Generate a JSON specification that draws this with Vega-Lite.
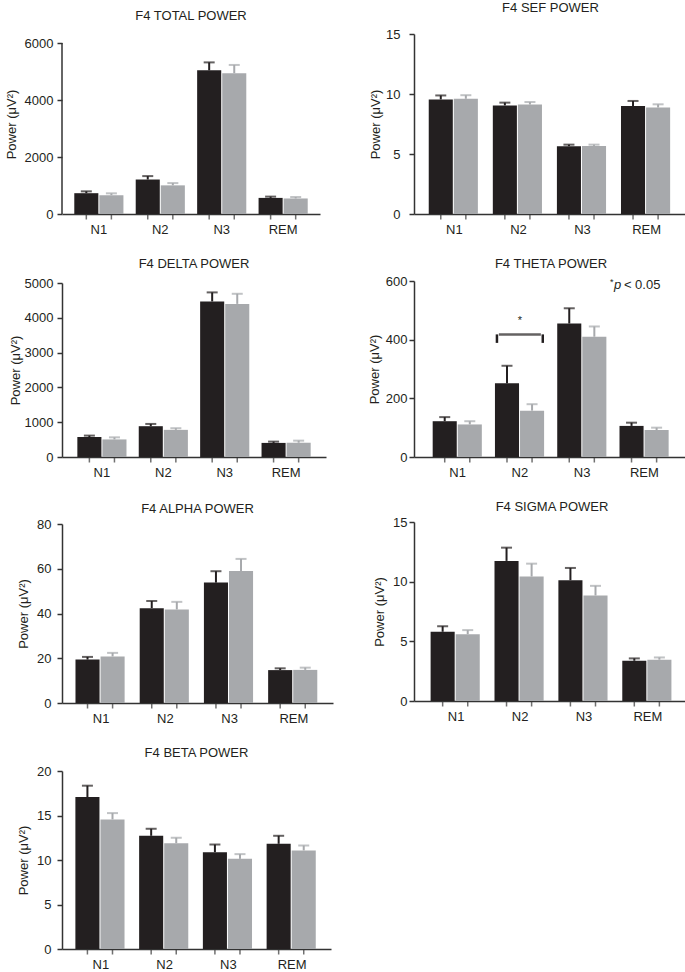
{
  "$schema": "https://vega.github.io/schema/vega-lite/v6.json",
  "padding": {"left": 5, "top": 2, "right": 0, "bottom": 0},
  "background": "white",
  "datasets": {
    "total": [
      {"stage": "N1", "group": "Group 1", "value": 730, "upper": 795},
      {"stage": "N1", "group": "Group 2", "value": 660, "upper": 725},
      {"stage": "N2", "group": "Group 1", "value": 1210, "upper": 1330},
      {"stage": "N2", "group": "Group 2", "value": 1005, "upper": 1085},
      {"stage": "N3", "group": "Group 1", "value": 5040, "upper": 5320},
      {"stage": "N3", "group": "Group 2", "value": 4940, "upper": 5230},
      {"stage": "REM", "group": "Group 1", "value": 565, "upper": 610},
      {"stage": "REM", "group": "Group 2", "value": 545, "upper": 595}
    ],
    "sef": [
      {"stage": "N1", "group": "Group 1", "value": 9.55, "upper": 9.88},
      {"stage": "N1", "group": "Group 2", "value": 9.6, "upper": 9.9},
      {"stage": "N2", "group": "Group 1", "value": 9.05, "upper": 9.28},
      {"stage": "N2", "group": "Group 2", "value": 9.12, "upper": 9.33},
      {"stage": "N3", "group": "Group 1", "value": 5.65, "upper": 5.78},
      {"stage": "N3", "group": "Group 2", "value": 5.67, "upper": 5.78},
      {"stage": "REM", "group": "Group 1", "value": 9.0, "upper": 9.42},
      {"stage": "REM", "group": "Group 2", "value": 8.87, "upper": 9.14}
    ],
    "delta": [
      {"stage": "N1", "group": "Group 1", "value": 575, "upper": 615},
      {"stage": "N1", "group": "Group 2", "value": 505, "upper": 565},
      {"stage": "N2", "group": "Group 1", "value": 885, "upper": 950},
      {"stage": "N2", "group": "Group 2", "value": 780, "upper": 827},
      {"stage": "N3", "group": "Group 1", "value": 4470, "upper": 4730},
      {"stage": "N3", "group": "Group 2", "value": 4400, "upper": 4690},
      {"stage": "REM", "group": "Group 1", "value": 405, "upper": 442},
      {"stage": "REM", "group": "Group 2", "value": 410, "upper": 470}
    ],
    "theta": [
      {"stage": "N1", "group": "Group 1", "value": 122, "upper": 136},
      {"stage": "N1", "group": "Group 2", "value": 111, "upper": 122},
      {"stage": "N2", "group": "Group 1", "value": 251, "upper": 311},
      {"stage": "N2", "group": "Group 2", "value": 158, "upper": 180},
      {"stage": "N3", "group": "Group 1", "value": 455, "upper": 507},
      {"stage": "N3", "group": "Group 2", "value": 410, "upper": 445},
      {"stage": "REM", "group": "Group 1", "value": 106, "upper": 117},
      {"stage": "REM", "group": "Group 2", "value": 92, "upper": 100}
    ],
    "alpha": [
      {"stage": "N1", "group": "Group 1", "value": 19.4, "upper": 20.6},
      {"stage": "N1", "group": "Group 2", "value": 20.8, "upper": 22.4},
      {"stage": "N2", "group": "Group 1", "value": 42.4, "upper": 45.6},
      {"stage": "N2", "group": "Group 2", "value": 41.8, "upper": 45.2},
      {"stage": "N3", "group": "Group 1", "value": 53.8, "upper": 58.9},
      {"stage": "N3", "group": "Group 2", "value": 59.0, "upper": 64.4},
      {"stage": "REM", "group": "Group 1", "value": 14.7, "upper": 15.5},
      {"stage": "REM", "group": "Group 2", "value": 14.8, "upper": 15.8}
    ],
    "sigma": [
      {"stage": "N1", "group": "Group 1", "value": 5.8, "upper": 6.27},
      {"stage": "N1", "group": "Group 2", "value": 5.6, "upper": 5.94},
      {"stage": "N2", "group": "Group 1", "value": 11.74, "upper": 12.85},
      {"stage": "N2", "group": "Group 2", "value": 10.43, "upper": 11.51},
      {"stage": "N3", "group": "Group 1", "value": 10.12, "upper": 11.15},
      {"stage": "N3", "group": "Group 2", "value": 8.84, "upper": 9.65},
      {"stage": "REM", "group": "Group 1", "value": 3.37, "upper": 3.57},
      {"stage": "REM", "group": "Group 2", "value": 3.46, "upper": 3.65}
    ],
    "beta": [
      {"stage": "N1", "group": "Group 1", "value": 17.07, "upper": 18.35},
      {"stage": "N1", "group": "Group 2", "value": 14.56, "upper": 15.27},
      {"stage": "N2", "group": "Group 1", "value": 12.72, "upper": 13.51},
      {"stage": "N2", "group": "Group 2", "value": 11.89, "upper": 12.5},
      {"stage": "N3", "group": "Group 1", "value": 10.88, "upper": 11.74},
      {"stage": "N3", "group": "Group 2", "value": 10.13, "upper": 10.66},
      {"stage": "REM", "group": "Group 1", "value": 11.82, "upper": 12.72},
      {"stage": "REM", "group": "Group 2", "value": 11.07, "upper": 11.63}
    ]
  },
  "columns": 2,
  "align": {"row": "none", "column": "each"},
  "spacing": {"row": 21, "column": 35},
  "concat": [
    {
      "width": 258, "height": 180,
      "title": {"text": "F4 TOTAL POWER", "offset": 11},
      "encoding": {
        "x": {"field": "stage", "type": "nominal", "sort": ["N1", "N2", "N3", "REM"], "title": null, "scale": {"paddingInner": 0.2, "paddingOuter": 0.2}}
      },
      "layer": [
        {"data": {"name": "total"}, "mark": {"type": "rule", "strokeWidth": 2}, "encoding": {"xOffset": {"field": "group", "type": "nominal", "scale": {"paddingInner": 0.04}}, "y": {"field": "value", "type": "quantitative"}, "y2": {"field": "upper"}, "color": {"field": "group", "type": "nominal", "scale": {"domain": ["Group 1", "Group 2"], "range": ["#231f20", "#a7a9ac"]}, "legend": null}}},
        {"data": {"name": "total"}, "mark": {"type": "bar"}, "encoding": {"xOffset": {"field": "group", "type": "nominal"}, "y": {"field": "value", "type": "quantitative", "scale": {"domain": [0, 6316], "nice": false}, "axis": {"values": [0, 2000, 4000, 6000], "tickCount": 10, "format": "d", "domain": false, "title": "Power (μV²)", "labelPadding": 4, "titlePadding": 6}}, "color": {"field": "group", "type": "nominal", "legend": null}}},
        {"data": {"name": "total"}, "mark": {"type": "tick", "orient": "horizontal", "thickness": 2, "size": 11}, "encoding": {"xOffset": {"field": "group", "type": "nominal"}, "y": {"field": "upper", "type": "quantitative"}, "color": {"field": "group", "type": "nominal", "legend": null}}},
        {"data": {"name": "total"}, "mark": {"type": "tick", "orient": "vertical", "thickness": 1.5, "size": 5, "yOffset": 3, "color": "#333333"}, "encoding": {"xOffset": {"field": "group", "type": "nominal"}, "y": {"datum": 0}}},
        {"data": {"values": [{"stage": "N1", "lo": 0, "hi": 6000}]}, "mark": {"type": "rule", "strokeWidth": 1.5, "color": "#333333"}, "encoding": {"x": {"field": "stage", "type": "nominal", "bandPosition": -0.25}, "y": {"field": "lo", "type": "quantitative"}, "y2": {"field": "hi"}}}
      ]
    },
    {
      "data": {"name": "sef"},
      "width": 273, "height": 180,
      "title": {"text": "F4 SEF POWER", "offset": 13},
      "encoding": {
        "x": {"field": "stage", "type": "nominal", "sort": ["N1", "N2", "N3", "REM"], "title": null, "scale": {"paddingInner": 0.2, "paddingOuter": 0.23}},
        "xOffset": {"field": "group", "type": "nominal", "scale": {"paddingInner": 0.04}}
      },
      "layer": [
        {"mark": {"type": "rule", "strokeWidth": 2}, "encoding": {"y": {"field": "value", "type": "quantitative"}, "y2": {"field": "upper"}, "color": {"field": "group", "type": "nominal", "scale": {"domain": ["Group 1", "Group 2"], "range": ["#231f20", "#a7a9ac"]}, "legend": null}}},
        {"mark": {"type": "bar"}, "encoding": {"y": {"field": "value", "type": "quantitative", "scale": {"domain": [0, 15], "nice": false}, "axis": {"values": [0, 5, 10, 15], "tickCount": 10, "format": "d", "title": "Power (μV²)", "labelPadding": 9, "titlePadding": 3}}, "color": {"field": "group", "type": "nominal", "legend": null}}},
        {"mark": {"type": "tick", "orient": "horizontal", "thickness": 2, "size": 11}, "encoding": {"y": {"field": "upper", "type": "quantitative"}, "color": {"field": "group", "type": "nominal", "legend": null}}},
        {"mark": {"type": "tick", "orient": "vertical", "thickness": 1.5, "size": 5, "yOffset": 3, "color": "#333333"}, "encoding": {"y": {"datum": 0}}}
      ]
    },
    {
      "data": {"name": "delta"},
      "width": 264, "height": 174,
      "title": {"text": "F4 DELTA POWER", "offset": 6},
      "encoding": {
        "x": {"field": "stage", "type": "nominal", "sort": ["N1", "N2", "N3", "REM"], "title": null, "scale": {"paddingInner": 0.2, "paddingOuter": 0.25}},
        "xOffset": {"field": "group", "type": "nominal", "scale": {"paddingInner": 0.04}}
      },
      "layer": [
        {"mark": {"type": "rule", "strokeWidth": 2}, "encoding": {"y": {"field": "value", "type": "quantitative"}, "y2": {"field": "upper"}, "color": {"field": "group", "type": "nominal", "scale": {"domain": ["Group 1", "Group 2"], "range": ["#231f20", "#a7a9ac"]}, "legend": null}}},
        {"mark": {"type": "bar"}, "encoding": {"y": {"field": "value", "type": "quantitative", "scale": {"domain": [0, 5000], "nice": false}, "axis": {"values": [0, 1000, 2000, 3000, 4000, 5000], "tickCount": 10, "format": "d", "title": "Power (μV²)", "labelPadding": 4, "titlePadding": 2}}, "color": {"field": "group", "type": "nominal", "legend": null}}},
        {"mark": {"type": "tick", "orient": "horizontal", "thickness": 2, "size": 11}, "encoding": {"y": {"field": "upper", "type": "quantitative"}, "color": {"field": "group", "type": "nominal", "legend": null}}},
        {"mark": {"type": "tick", "orient": "vertical", "thickness": 1.5, "size": 5, "yOffset": 3, "color": "#333333"}, "encoding": {"y": {"datum": 0}}}
      ]
    },
    {
      "width": 274, "height": 176,
      "title": {"text": "F4 THETA POWER", "offset": 4},
      "encoding": {
        "x": {"field": "stage", "type": "nominal", "sort": ["N1", "N2", "N3", "REM"], "title": null, "scale": {"paddingInner": 0.2, "paddingOuter": 0.3}}
      },
      "layer": [
        {"data": {"name": "theta"}, "mark": {"type": "rule", "strokeWidth": 2}, "encoding": {"xOffset": {"field": "group", "type": "nominal", "scale": {"paddingInner": 0.04}}, "y": {"field": "value", "type": "quantitative"}, "y2": {"field": "upper"}, "color": {"field": "group", "type": "nominal", "scale": {"domain": ["Group 1", "Group 2"], "range": ["#231f20", "#a7a9ac"]}, "legend": null}}},
        {"data": {"name": "theta"}, "mark": {"type": "bar"}, "encoding": {"xOffset": {"field": "group", "type": "nominal"}, "y": {"field": "value", "type": "quantitative", "scale": {"domain": [0, 600], "nice": false}, "axis": {"values": [0, 200, 400, 600], "tickCount": 10, "format": "d", "title": "Power (μV²)", "labelPadding": 2, "titlePadding": 4}}, "color": {"field": "group", "type": "nominal", "legend": null}}},
        {"data": {"name": "theta"}, "mark": {"type": "tick", "orient": "horizontal", "thickness": 2, "size": 11}, "encoding": {"xOffset": {"field": "group", "type": "nominal"}, "y": {"field": "upper", "type": "quantitative"}, "color": {"field": "group", "type": "nominal", "legend": null}}},
        {"data": {"name": "theta"}, "mark": {"type": "tick", "orient": "vertical", "thickness": 1.5, "size": 5, "yOffset": 3, "color": "#333333"}, "encoding": {"xOffset": {"field": "group", "type": "nominal"}, "y": {"datum": 0}}},
        {"data": {"values": [{"stage": "N2", "lo": 389, "hi": 418}]}, "mark": {"type": "rule", "strokeWidth": 2.5, "color": "#231f20"}, "encoding": {"x": {"field": "stage", "type": "nominal", "bandPosition": 0.04}, "y": {"field": "lo", "type": "quantitative"}, "y2": {"field": "hi"}}},
        {"data": {"values": [{"stage": "N2", "lo": 389, "hi": 418}]}, "mark": {"type": "rule", "strokeWidth": 2.5, "color": "#231f20"}, "encoding": {"x": {"field": "stage", "type": "nominal", "bandPosition": 0.96}, "y": {"field": "lo", "type": "quantitative"}, "y2": {"field": "hi"}}},
        {"data": {"values": [{"stage": "N2", "hi": 418}]}, "mark": {"type": "tick", "orient": "horizontal", "thickness": 2.5, "size": 42, "color": "#231f20"}, "encoding": {"x": {"field": "stage", "type": "nominal"}, "y": {"field": "hi", "type": "quantitative"}}},
        {"data": {"values": [{"stage": "N2", "y": 462, "label": "*"}]}, "mark": {"type": "text", "fontSize": 11, "fill": "#231f20"}, "encoding": {"x": {"field": "stage", "type": "nominal"}, "y": {"field": "y", "type": "quantitative"}, "text": {"field": "label"}}},
        {"data": {"values": [{"stage": "REM", "y": 590, "label": "*"}]}, "mark": {"type": "text", "fontSize": 9, "align": "left", "dx": -34.5, "dy": -2, "fill": "#231f20"}, "encoding": {"x": {"field": "stage", "type": "nominal"}, "y": {"field": "y", "type": "quantitative"}, "text": {"field": "label"}}},
        {"data": {"values": [{"stage": "REM", "y": 585, "label": "p"}]}, "mark": {"type": "text", "fontSize": 13, "fontStyle": "italic", "align": "left", "dx": -30.5, "fill": "#231f20"}, "encoding": {"x": {"field": "stage", "type": "nominal"}, "y": {"field": "y", "type": "quantitative"}, "text": {"field": "label"}}},
        {"data": {"values": [{"stage": "REM", "y": 585, "label": "< 0.05"}]}, "mark": {"type": "text", "fontSize": 13, "align": "left", "dx": -20.5, "fill": "#231f20"}, "encoding": {"x": {"field": "stage", "type": "nominal"}, "y": {"field": "y", "type": "quantitative"}, "text": {"field": "label"}}}
      ]
    },
    {
      "data": {"name": "alpha"},
      "width": 271, "height": 179,
      "title": {"text": "F4 ALPHA POWER", "offset": 2},
      "encoding": {
        "x": {"field": "stage", "type": "nominal", "sort": ["N1", "N2", "N3", "REM"], "title": null, "scale": {"paddingInner": 0.2, "paddingOuter": 0.21}},
        "xOffset": {"field": "group", "type": "nominal", "scale": {"paddingInner": 0.04}}
      },
      "layer": [
        {"mark": {"type": "rule", "strokeWidth": 2}, "encoding": {"y": {"field": "value", "type": "quantitative"}, "y2": {"field": "upper"}, "color": {"field": "group", "type": "nominal", "scale": {"domain": ["Group 1", "Group 2"], "range": ["#231f20", "#a7a9ac"]}, "legend": null}}},
        {"mark": {"type": "bar"}, "encoding": {"y": {"field": "value", "type": "quantitative", "scale": {"domain": [0, 80], "nice": false}, "axis": {"values": [0, 20, 40, 60, 80], "tickCount": 10, "format": "d", "title": "Power (μV²)", "labelPadding": 6, "titlePadding": 6}}, "color": {"field": "group", "type": "nominal", "legend": null}}},
        {"mark": {"type": "tick", "orient": "horizontal", "thickness": 2, "size": 11}, "encoding": {"y": {"field": "upper", "type": "quantitative"}, "color": {"field": "group", "type": "nominal", "legend": null}}},
        {"mark": {"type": "tick", "orient": "vertical", "thickness": 1.5, "size": 5, "yOffset": 3, "color": "#333333"}, "encoding": {"y": {"datum": 0}}}
      ]
    },
    {
      "data": {"name": "sigma"},
      "width": 276, "height": 179,
      "title": {"text": "F4 SIGMA POWER", "offset": 2},
      "encoding": {
        "x": {"field": "stage", "type": "nominal", "sort": ["N1", "N2", "N3", "REM"], "title": null, "scale": {"paddingInner": 0.2, "paddingOuter": 0.26}},
        "xOffset": {"field": "group", "type": "nominal", "scale": {"paddingInner": 0.04}}
      },
      "layer": [
        {"mark": {"type": "rule", "strokeWidth": 2}, "encoding": {"y": {"field": "value", "type": "quantitative"}, "y2": {"field": "upper"}, "color": {"field": "group", "type": "nominal", "scale": {"domain": ["Group 1", "Group 2"], "range": ["#231f20", "#a7a9ac"]}, "legend": null}}},
        {"mark": {"type": "bar"}, "encoding": {"y": {"field": "value", "type": "quantitative", "scale": {"domain": [0, 15], "nice": false}, "axis": {"values": [0, 5, 10, 15], "tickCount": 10, "format": "d", "title": "Power (μV²)", "labelPadding": 2, "titlePadding": 6}}, "color": {"field": "group", "type": "nominal", "legend": null}}},
        {"mark": {"type": "tick", "orient": "horizontal", "thickness": 2, "size": 11}, "encoding": {"y": {"field": "upper", "type": "quantitative"}, "color": {"field": "group", "type": "nominal", "legend": null}}},
        {"mark": {"type": "tick", "orient": "vertical", "thickness": 1.5, "size": 5, "yOffset": 3, "color": "#333333"}, "encoding": {"y": {"datum": 0}}}
      ]
    },
    {
      "data": {"name": "beta"},
      "width": 269, "height": 178,
      "title": {"text": "F4 BETA POWER", "offset": 5},
      "encoding": {
        "x": {"field": "stage", "type": "nominal", "sort": ["N1", "N2", "N3", "REM"], "title": null, "scale": {"paddingInner": 0.2, "paddingOuter": 0.21}},
        "xOffset": {"field": "group", "type": "nominal", "scale": {"paddingInner": 0.04}}
      },
      "layer": [
        {"mark": {"type": "rule", "strokeWidth": 2}, "encoding": {"y": {"field": "value", "type": "quantitative"}, "y2": {"field": "upper"}, "color": {"field": "group", "type": "nominal", "scale": {"domain": ["Group 1", "Group 2"], "range": ["#231f20", "#a7a9ac"]}, "legend": null}}},
        {"mark": {"type": "bar"}, "encoding": {"y": {"field": "value", "type": "quantitative", "scale": {"domain": [0, 20], "nice": false}, "axis": {"values": [0, 5, 10, 15, 20], "tickCount": 10, "format": "d", "title": "Power (μV²)", "labelPadding": 6, "titlePadding": 6}}, "color": {"field": "group", "type": "nominal", "legend": null}}},
        {"mark": {"type": "tick", "orient": "horizontal", "thickness": 2, "size": 11}, "encoding": {"y": {"field": "upper", "type": "quantitative"}, "color": {"field": "group", "type": "nominal", "legend": null}}},
        {"mark": {"type": "tick", "orient": "vertical", "thickness": 1.5, "size": 5, "yOffset": 3, "color": "#333333"}, "encoding": {"y": {"datum": 0}}}
      ]
    }
  ],
  "config": {
    "font": "Liberation Sans",
    "view": {"stroke": null},
    "axis": {"grid": false, "domainColor": "#333333", "tickColor": "#333333", "domainWidth": 1.5, "tickWidth": 1.5, "labelColor": "#231f20", "titleColor": "#231f20", "labelFontSize": 13, "titleFontSize": 13, "titleFontWeight": "normal"},
    "axisX": {"ticks": false, "labelAngle": 0, "labelPadding": 9.5},
    "axisY": {"tickSize": 5, "labelOverlap": false},
    "title": {"fontSize": 13, "fontWeight": "normal", "color": "#231f20", "offset": 11}
  }
}
